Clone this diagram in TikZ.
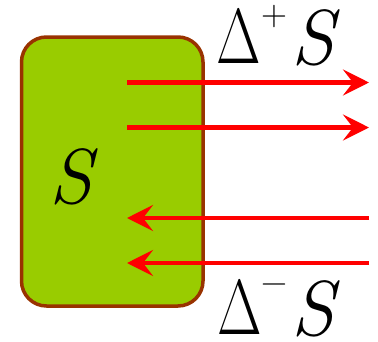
\documentclass[tikz,border=0pt]{standalone}
\usepackage{fontspec}
\usepackage{graphicx}
\usetikzlibrary{arrows.meta}
\definecolor{boxfill}{HTML}{99CC00}
\definecolor{boxedge}{HTML}{993300}
\newcommand{\narrowdelta}{\scalebox{0.74}[1]{Δ}}
\tikzset{
  sysbox/.style={draw=boxedge, fill=boxfill, line width=3.5pt, rounded corners=25pt},
  flow/.style={draw=red, line width=4.5pt, -{Stealth[length=26pt, width=26pt, inset=10pt]}},
  biglabel/.style={inner sep=0pt, anchor=base west, font=\fontsize{78}{78}\selectfont\addfontfeatures{FakeBold=1.2}},
  smalllabel/.style={inner sep=0pt, anchor=center, font=\fontsize{36}{36}\selectfont\addfontfeatures{FakeBold=1.5}}
}
\begin{document}
\begin{tikzpicture}[x=1pt, y=-1pt]
\useasboundingbox (0,0) rectangle (378,341);
\draw[sysbox] (21.5,37) rectangle (203,306);
\node[biglabel] (s) at (49,203) {\itshape S};
% outgoing arrows
\coordinate (o1s) at (127,82.5);
\coordinate (o1e) at (369,82.5);
\coordinate (o2s) at (127,127.5);
\coordinate (o2e) at (369,127.5);
\draw[flow] (o1s) -- (o1e);
\draw[flow] (o2s) -- (o2e);
% incoming arrows
\coordinate (i1s) at (369,218);
\coordinate (i1e) at (127,218);
\coordinate (i2s) at (369,263);
\coordinate (i2e) at (127,263);
\draw[flow] (i1s) -- (i1e);
\draw[flow] (i2s) -- (i2e);
% labels
\node[biglabel] (dp) at (216,63) {\narrowdelta};
\node[smalllabel] (plus) at (274,16.5) {+};
\node[biglabel] (sp) at (291,64) {\itshape S};
\node[biglabel] (dm) at (217,334) {\narrowdelta};
\node[smalllabel] (minus) at (274.5,289) {−};
\node[biglabel] (sm) at (291,335) {\itshape S};
\end{tikzpicture}
\end{document}
